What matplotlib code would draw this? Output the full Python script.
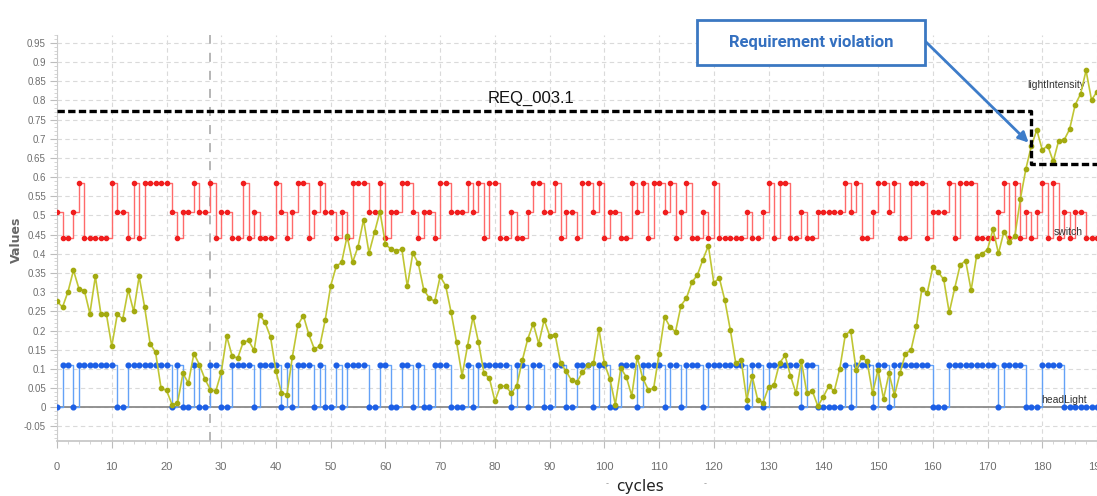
import matplotlib.pyplot as plt
import numpy as np
from matplotlib.patches import Rectangle
from matplotlib.ticker import MultipleLocator

# cycle index 0..190
cycles = np.arange(191)

switch = [
    0.51, 0.44, 0.44, 0.51, 0.585, 0.44, 0.44, 0.44, 0.44, 0.44,
    0.585, 0.51, 0.51, 0.44, 0.585, 0.44, 0.585, 0.585, 0.585, 0.585,
    0.585, 0.51, 0.44, 0.51, 0.51, 0.585, 0.51, 0.51, 0.585, 0.44,
    0.51, 0.51, 0.44, 0.44, 0.585, 0.44, 0.51, 0.44, 0.44, 0.44,
    0.585, 0.51, 0.44, 0.51, 0.585, 0.585, 0.44, 0.51, 0.585, 0.51,
    0.51, 0.44, 0.51, 0.44, 0.585, 0.585, 0.585, 0.51, 0.51, 0.585,
    0.44, 0.51, 0.51, 0.585, 0.585, 0.51, 0.44, 0.51, 0.51, 0.44,
    0.585, 0.585, 0.51, 0.51, 0.51, 0.585, 0.51, 0.585, 0.44, 0.585,
    0.585, 0.44, 0.44, 0.51, 0.44, 0.44, 0.51, 0.585, 0.585, 0.51,
    0.51, 0.585, 0.44, 0.51, 0.51, 0.44, 0.585, 0.585, 0.51, 0.585,
    0.44, 0.51, 0.51, 0.44, 0.44, 0.585, 0.51, 0.585, 0.44, 0.585,
    0.585, 0.51, 0.585, 0.44, 0.51, 0.585, 0.44, 0.44, 0.51, 0.44,
    0.585, 0.44, 0.44, 0.44, 0.44, 0.44, 0.51, 0.44, 0.44, 0.51,
    0.585, 0.44, 0.585, 0.585, 0.44, 0.44, 0.51, 0.44, 0.44, 0.51,
    0.51, 0.51, 0.51, 0.51, 0.585, 0.51, 0.585, 0.44, 0.44, 0.51,
    0.585, 0.585, 0.51, 0.585, 0.44, 0.44, 0.585, 0.585, 0.585, 0.44,
    0.51, 0.51, 0.51, 0.585, 0.44, 0.585, 0.585, 0.585, 0.44, 0.44,
    0.44, 0.44, 0.51, 0.585, 0.44, 0.585, 0.44, 0.51, 0.44, 0.51,
    0.585, 0.44, 0.585, 0.44, 0.51, 0.44, 0.51, 0.51, 0.44, 0.44,
    0.44,
]

head_light = [
    0, 0.11, 0.11, 0, 0.11, 0.11, 0.11, 0.11, 0.11, 0.11,
    0.11, 0, 0, 0.11, 0.11, 0.11, 0.11, 0.11, 0.11, 0.11,
    0.11, 0, 0.11, 0, 0, 0.11, 0, 0, 0.11, 0.11,
    0, 0, 0.11, 0.11, 0.11, 0.11, 0, 0.11, 0.11, 0.11,
    0.11, 0, 0.11, 0, 0.11, 0.11, 0.11, 0, 0.11, 0,
    0, 0.11, 0, 0.11, 0.11, 0.11, 0.11, 0, 0, 0.11,
    0.11, 0, 0, 0.11, 0.11, 0, 0.11, 0, 0, 0.11,
    0.11, 0.11, 0, 0, 0, 0.11, 0, 0.11, 0.11, 0.11,
    0.11, 0.11, 0.11, 0, 0.11, 0.11, 0, 0.11, 0.11, 0,
    0, 0.11, 0.11, 0, 0, 0.11, 0.11, 0.11, 0, 0.11,
    0.11, 0, 0, 0.11, 0.11, 0.11, 0, 0.11, 0.11, 0.11,
    0.11, 0, 0.11, 0.11, 0, 0.11, 0.11, 0.11, 0, 0.11,
    0.11, 0.11, 0.11, 0.11, 0.11, 0.11, 0, 0.11, 0.11, 0,
    0.11, 0.11, 0.11, 0.11, 0.11, 0.11, 0, 0.11, 0.11, 0,
    0, 0, 0, 0, 0.11, 0, 0.11, 0.11, 0.11, 0,
    0.11, 0.11, 0, 0.11, 0.11, 0.11, 0.11, 0.11, 0.11, 0.11,
    0, 0, 0, 0.11, 0.11, 0.11, 0.11, 0.11, 0.11, 0.11,
    0.11, 0.11, 0, 0.11, 0.11, 0.11, 0.11, 0, 0, 0,
    0.11, 0.11, 0.11, 0.11, 0, 0, 0, 0, 0, 0,
    0,
]

light_intensity = [
    0.276, 0.261, 0.301, 0.357, 0.309, 0.304, 0.244, 0.341, 0.244, 0.244,
    0.159, 0.242, 0.230, 0.306, 0.250, 0.341, 0.261, 0.166, 0.143, 0.050,
    0.044, 0.007, 0.010, 0.088, 0.063, 0.140, 0.111, 0.074, 0.046, 0.042,
    0.091, 0.185, 0.133, 0.128, 0.169, 0.174, 0.148, 0.241, 0.221, 0.183,
    0.094, 0.037, 0.033, 0.132, 0.214, 0.239, 0.190, 0.152, 0.159, 0.228,
    0.317, 0.367, 0.378, 0.446, 0.378, 0.419, 0.489, 0.402, 0.456, 0.510,
    0.425, 0.412, 0.408, 0.412, 0.315, 0.402, 0.375, 0.306, 0.285, 0.276,
    0.341, 0.317, 0.247, 0.169, 0.082, 0.160, 0.236, 0.169, 0.089, 0.075,
    0.016, 0.055, 0.055, 0.036, 0.056, 0.122, 0.178, 0.218, 0.166, 0.228,
    0.186, 0.189, 0.115, 0.094, 0.070, 0.066, 0.091, 0.109, 0.114, 0.204,
    0.114, 0.074, 0.007, 0.102, 0.079, 0.030, 0.130, 0.076, 0.046, 0.049,
    0.140, 0.235, 0.209, 0.197, 0.265, 0.285, 0.326, 0.345, 0.385, 0.421,
    0.324, 0.337, 0.279, 0.202, 0.115, 0.122, 0.020, 0.081, 0.020, 0.012,
    0.052, 0.059, 0.115, 0.135, 0.082, 0.036, 0.120, 0.036, 0.042, 0.003,
    0.027, 0.055, 0.042, 0.100, 0.187, 0.200, 0.096, 0.130, 0.120, 0.036,
    0.098, 0.022, 0.088, 0.031, 0.088, 0.140, 0.148, 0.211, 0.308, 0.299,
    0.365, 0.352, 0.333, 0.247, 0.310, 0.371, 0.382, 0.305, 0.394, 0.400,
    0.411, 0.464, 0.401, 0.458, 0.431, 0.447, 0.543, 0.621, 0.681, 0.723,
    0.671, 0.682, 0.641, 0.695, 0.697, 0.725, 0.788, 0.817, 0.878, 0.801,
    0.823,
]

# requirement REQ_003.1 threshold (dashed outline)
req_x = [0, 178, 178, 190]
req_y = [0.773, 0.773, 0.635, 0.635]
cursor_cycle = 28

fig = plt.figure(figsize=(10.97, 4.96), dpi=100)
ax = fig.add_axes([0.052, 0.111, 0.948, 0.818])

ax.set_xlim(0, 190)
ax.set_ylim(-0.088, 0.97)

ax.grid(True, which='major', color='#dadada', linestyle=(0, (4, 3)), linewidth=0.8)
ax.set_axisbelow(True)

ax.axhline(0, color='#8a8a8a', lw=1.3, zorder=1)
ax.axvline(cursor_cycle, color='#b0b0b0', lw=1.3, linestyle=(0, (5, 5)), zorder=1)

ax.plot(cycles, switch, drawstyle='steps-post', color='#ff6a6a', lw=1.0,
        marker='o', ms=3.0, mfc='#f01e1e', mec='#f01e1e', zorder=3)
ax.plot(cycles, head_light, drawstyle='steps-post', color='#64a2f7', lw=1.0,
        marker='o', ms=3.4, mfc='#1c5fe6', mec='#1c5fe6', zorder=3)
ax.plot(cycles, light_intensity, color='#c0c634', lw=1.2,
        marker='o', ms=3.1, mfc='#a3aa10', mec='#a3aa10', zorder=4)

ax.plot(req_x, req_y, color='black', lw=2.4, linestyle=(0, (2.2, 1.0)), zorder=5)
ax.text(78.7, 0.785, 'REQ_003.1', fontsize=12, family='Liberation Sans',
        color='#111111', va='bottom')

# series labels at the right end
ax.text(177.2, 0.84, 'lightIntensity', fontsize=7.5, family='Liberation Sans',
        color='#333333', va='center')
ax.text(182.1, 0.457, 'switch', fontsize=7.5, family='Liberation Sans',
        color='#333333', va='center')
ax.text(179.9, 0.02, 'headLight', fontsize=7.5, family='Liberation Sans',
        color='#333333', va='center')

# axes styling
for side in ['top', 'right']:
    ax.spines[side].set_visible(False)
ax.spines['left'].set_color('#cccccc')
ax.spines['bottom'].set_color('#c4c4c4')
ax.spines['bottom'].set_linewidth(1.2)

ax.xaxis.set_major_locator(MultipleLocator(10))
ax.xaxis.set_minor_locator(MultipleLocator(2))
ax.yaxis.set_minor_locator(MultipleLocator(0.01))
ax.tick_params(axis='both', which='major', labelcolor='#6e6e6e',
               color='#bdbdbd', length=5)
ax.tick_params(axis='x', which='major', pad=10)
ax.tick_params(axis='y', which='major', pad=3)
ax.tick_params(axis='both', which='minor', color='#cfcfcf', length=2.5)
ytick_vals = np.round(np.arange(-0.05, 0.951, 0.05), 2)
ax.set_yticks(ytick_vals)
ax.set_yticklabels([('%g' % v) for v in ytick_vals])
for lbl in ax.get_yticklabels():
    lbl.set_family('Liberation Sans')
    lbl.set_fontsize(7)
for lbl in ax.get_xticklabels():
    lbl.set_family('Liberation Sans')
    lbl.set_fontsize(8)

fig.text(16 / 1097, 1 - 240 / 496, 'Values', fontsize=9, fontweight='bold',
         color='#666666', rotation=90, ha='center', va='center')
fig.text(640 / 1097, 1 - 487 / 496, 'cycles', fontsize=11, color='#222222',
         ha='center', va='center')
fig.text(607 / 1097, 1 - 484 / 496, '-', fontsize=6, color='#999999', ha='center', va='center')
fig.text(705 / 1097, 1 - 484 / 496, '-', fontsize=6, color='#999999', ha='center', va='center')

# "Requirement violation" callout
box = Rectangle((697 / 1097, 1 - 65 / 496), 228 / 1097, 45 / 496,
                transform=fig.transFigure, facecolor='white',
                edgecolor='#3b78c2', lw=2, zorder=10)
fig.patches.append(box)
fig.text(811 / 1097, 1 - 42 / 496, 'Requirement violation', fontsize=12,
         fontweight='bold', family='Roboto', color='#3470c0',
         ha='center', va='center', zorder=11)
ax.annotate('', xy=(177.5, 0.69), xycoords='data',
            xytext=(925 / 1097, 1 - 41 / 496), textcoords='figure fraction',
            arrowprops=dict(arrowstyle='-|>,head_length=0.6,head_width=0.3',
                            color='#3d7cc9', lw=2, shrinkA=0, shrinkB=0),
            zorder=9, annotation_clip=False)

fig.savefig('out.png', dpi=100)
